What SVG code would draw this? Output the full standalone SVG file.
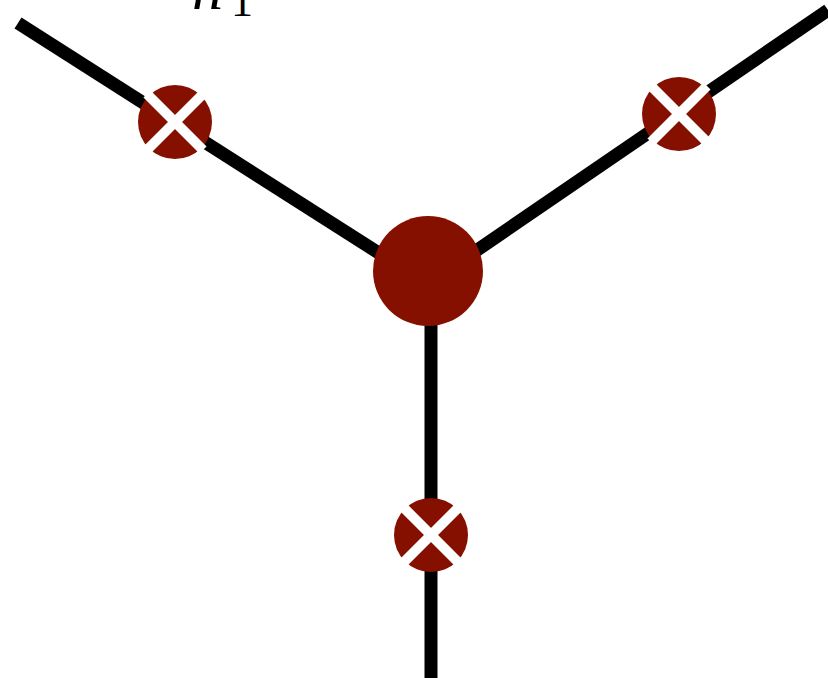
<svg xmlns="http://www.w3.org/2000/svg" width="828" height="678" viewBox="0 0 828 678">
  <style>
    .edge { stroke: #000; stroke-width: 13; fill: none; stroke-linecap: butt; }
    .vertex { fill: #861000; }
    .cross { stroke: #fff; stroke-width: 10; stroke-linecap: butt; }
    .lbl { font-family: "Liberation Serif", "DejaVu Serif", serif; fill: #000; }
  </style>
  <defs>
    <!-- crossed insertion marker, centred on the origin -->
    <g id="xmark">
      <circle class="vertex" r="37"/>
      <line class="cross" x1="-28" y1="-28" x2="28" y2="28"/>
      <line class="cross" x1="28" y1="-28" x2="-28" y2="28"/>
    </g>
  </defs>

  <!-- legs of the vertex -->
  <g id="edges">
    <line class="edge" x1="18" y1="23" x2="429" y2="285"/>
    <line class="edge" x1="828" y1="10" x2="429" y2="283"/>
    <line class="edge" x1="431" y1="300" x2="431" y2="678"/>
  </g>

  <!-- leg label -->
  <g id="label">
    <text class="lbl" x="192" y="9" font-size="62" font-style="italic">h</text>
    <text class="lbl" x="231" y="16" font-size="44">1</text>
  </g>

  <g id="center">
    <circle class="vertex" cx="428" cy="271" r="55"/>
  </g>
  <g id="cross-left"><use href="#xmark" x="175" y="122"/></g>
  <g id="cross-right"><use href="#xmark" x="679" y="114"/></g>
  <g id="cross-bottom"><use href="#xmark" x="431" y="535"/></g>
</svg>
